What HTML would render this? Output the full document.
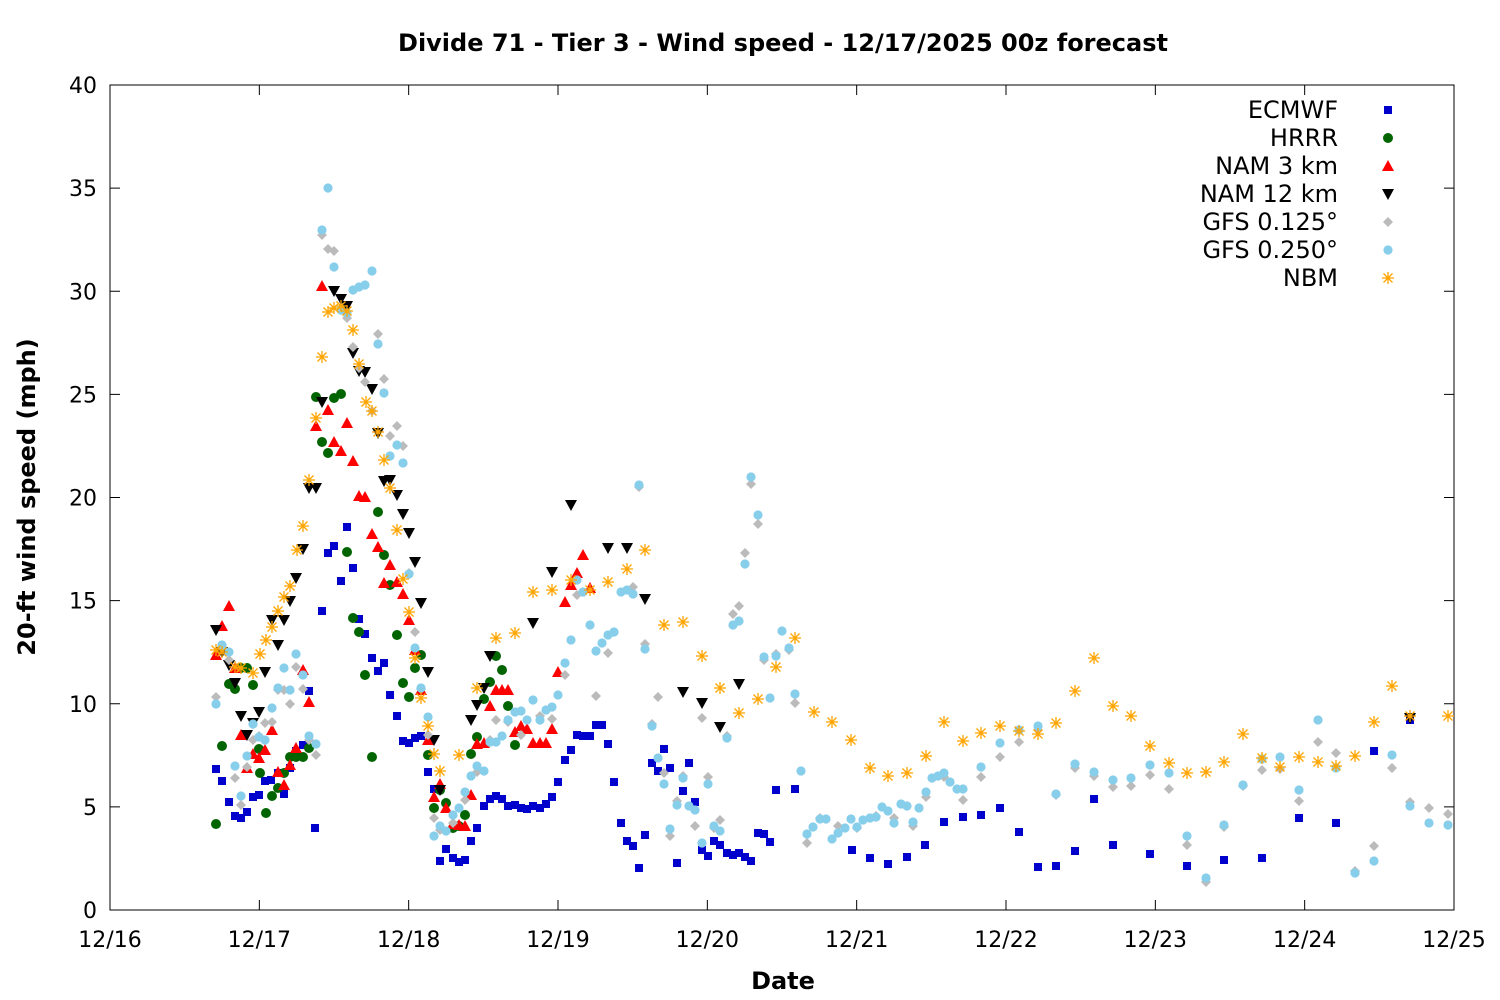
<!DOCTYPE html>
<html><head><meta charset="utf-8"><style>
html,body{margin:0;padding:0;background:#fff}
svg{display:block;font-family:"DejaVu Sans","Liberation Sans",sans-serif}
</style></head><body>
<svg id="s" width="1500" height="1000" xmlns="http://www.w3.org/2000/svg">
<rect width="1500" height="1000" fill="#fff"/>
<text x="783" y="51" text-anchor="middle" font-size="24" font-weight="bold">Divide 71 - Tier 3 - Wind speed - 12/17/2025 00z forecast</text>
<text x="783" y="989" text-anchor="middle" font-size="24" font-weight="bold">Date</text>
<text transform="translate(35,497) rotate(-90)" text-anchor="middle" font-size="24" font-weight="bold">20-ft wind speed (mph)</text>
<rect x="110" y="85" width="1344" height="825" fill="none" stroke="#000" stroke-width="1"/>
<g id="ax" font-size="22"></g>
<g id="pts"></g>
<g id="leg" font-size="24"></g>
</svg>
<script>
var NS="http://www.w3.org/2000/svg";
function el(p,t,a,txt){var e=document.createElementNS(NS,t);for(var k in a)e.setAttribute(k,a[k]);if(txt!==undefined)e.textContent=txt;p.appendChild(e);return e;}
var ax=document.getElementById('ax'),pts=document.getElementById('pts'),leg=document.getElementById('leg');
var days=['12/16','12/17','12/18','12/19','12/20','12/21','12/22','12/23','12/24','12/25'];
for(var i=0;i<=9;i++){var x=110+1344/9*i;
 el(ax,'line',{x1:x,y1:910,x2:x,y2:900,stroke:'#000'});el(ax,'line',{x1:x,y1:85,x2:x,y2:95,stroke:'#000'});
 el(ax,'text',{x:x,y:947,'text-anchor':'middle'},days[i]);}
for(var j=0;j<=8;j++){var y=910-103.125*j;
 el(ax,'line',{x1:110,y1:y,x2:120,y2:y,stroke:'#000'});el(ax,'line',{x1:1454,y1:y,x2:1444,y2:y,stroke:'#000'});
 el(ax,'text',{x:97,y:y+8,'text-anchor':'end'},String(j*5));}
function mk(g,type,x,y){
 if(type=='sq')el(g,'rect',{x:x-4,y:y-4,width:8,height:8,fill:'#0000cc'});
 else if(type=='ci')el(g,'circle',{cx:x,cy:y,r:5,fill:'#006400'});
 else if(type=='tu')el(g,'polygon',{points:(x-6)+','+(y+5)+' '+(x+6)+','+(y+5)+' '+x+','+(y-6),fill:'#ff0000'});
 else if(type=='td')el(g,'polygon',{points:(x-6)+','+(y-5)+' '+(x+6)+','+(y-5)+' '+x+','+(y+6),fill:'#000'});
 else if(type=='di')el(g,'polygon',{points:x+','+(y-5)+' '+(x+5)+','+y+' '+x+','+(y+5)+' '+(x-5)+','+y,fill:'#bbbbbb'});
 else if(type=='hx')el(g,'circle',{cx:x,cy:y,r:4.6,fill:'#87ceeb'});
 else if(type=='st'){var s='M'+(x-6)+' '+y+'h12M'+x+' '+(y-6)+'v12M'+(x-4.5)+' '+(y-4.5)+'l9 9M'+(x-4.5)+' '+(y+4.5)+'l9 -9';el(g,'path',{d:s,stroke:'#ffa500','stroke-width':1.3,fill:'none'});}
}
var D={
sq:[[216,769],[222,781],[229,802],[235,816],[241,818],[247,812],[253,797],[259,795],[265,781],[271,780],[278,773],[284,794],[290,768],[296,751],[303,745],[309,691],[315,828],[322,611],[328,553],[334,546],[341,581],[347,527],[353,568],[359,619],[365,634],[372,658],[378,671],[384,663],[390,695],[397,716],[403,741],[409,743],[415,738],[421,736],[428,772],[434,789],[440,861],[446,849],[453,858],[459,862],[465,860],[471,841],[477,828],[484,806],[490,799],[496,796],[502,799],[508,806],[515,805],[521,808],[527,809],[533,806],[540,808],[546,804],[552,797],[558,782],[565,760],[571,750],[577,735],[583,736],[590,736],[596,725],[602,725],[608,744],[614,782],[621,823],[627,841],[633,846],[639,868],[645,835],[652,763],[658,771],[664,749],[670,768],[677,863],[683,791],[689,763],[695,802],[702,850],[708,856],[714,841],[720,845],[727,853],[733,855],[739,853],[745,857],[751,861],[758,833],[764,834],[770,842],[776,790],[795,789],[852,850],[870,858],[888,864],[907,857],[925,845],[944,822],[963,817],[981,815],[1000,808],[1019,832],[1038,867],[1056,866],[1075,851],[1094,799],[1113,845],[1150,854],[1187,866],[1224,860],[1262,858],[1299,818],[1336,823],[1374,751],[1410,720]],
ci:[[216,824],[222,746],[229,684],[235,689],[241,668],[247,668],[253,685],[259,749],[260,773],[266,813],[272,796],[278,788],[284,773],[290,757],[296,757],[303,757],[309,748],[316,397],[322,442],[328,453],[334,398],[341,394],[347,552],[353,618],[359,632],[365,675],[372,757],[378,512],[384,555],[390,585],[397,635],[403,683],[409,697],[415,668],[421,655],[428,755],[434,808],[440,790],[446,803],[453,828],[459,826],[465,815],[471,754],[477,737],[484,699],[490,682],[496,656],[502,670],[508,706],[515,745]],
tu:[[216,655],[222,626],[229,606],[235,668],[241,735],[247,768],[253,754],[259,758],[265,750],[272,730],[278,772],[284,785],[290,765],[296,748],[303,670],[309,702],[316,426],[322,286],[328,410],[334,442],[341,451],[347,423],[353,461],[359,496],[365,497],[372,534],[378,547],[384,583],[390,565],[397,582],[403,594],[409,620],[415,650],[421,690],[428,740],[434,797],[440,784],[446,808],[453,824],[459,825],[465,826],[471,795],[477,744],[484,743],[490,706],[496,690],[502,690],[508,690],[515,732],[521,726],[527,729],[533,743],[540,743],[546,743],[552,729],[558,672],[565,602],[571,585],[577,573],[583,555],[590,588]],
td:[[216,630],[222,652],[229,665],[235,683],[241,716],[247,735],[253,723],[259,712],[265,672],[272,620],[278,645],[284,620],[290,601],[296,578],[303,549],[309,488],[316,488],[322,402],[334,291],[341,299],[347,306],[353,353],[359,371],[365,372],[372,389],[378,433],[384,481],[390,480],[397,495],[403,514],[409,533],[415,562],[421,603],[428,672],[434,740],[440,790],[471,720],[477,705],[484,688],[490,656],[533,623],[552,572],[571,505],[608,548],[627,548],[645,599],[683,692],[702,703],[720,727],[739,684],[1410,718]],
di:[[216,697],[222,647],[229,660],[235,778],[241,805],[247,767],[253,740],[259,736],[265,723],[272,722],[278,690],[284,690],[290,704],[296,667],[303,689],[309,740],[316,755],[322,235],[328,249],[334,251],[341,310],[347,318],[353,347],[359,368],[365,382],[372,411],[378,334],[384,379],[390,436],[397,426],[403,446],[409,573],[415,632],[421,689],[428,735],[434,818],[440,830],[453,823],[465,800],[477,772],[490,740],[496,720],[508,722],[521,735],[540,716],[552,719],[565,675],[577,595],[596,696],[608,653],[633,587],[639,487],[645,644],[652,724],[658,697],[664,773],[670,836],[677,801],[683,776],[695,826],[702,718],[708,777],[714,828],[720,820],[727,736],[733,614],[739,606],[745,553],[751,484],[758,524],[764,660],[776,654],[789,650],[795,703],[807,843],[820,818],[838,826],[857,828],[876,816],[894,818],[913,826],[926,797],[944,777],[963,800],[981,777],[1000,757],[1019,742],[1038,730],[1056,795],[1075,768],[1094,776],[1113,787],[1131,786],[1150,775],[1169,789],[1187,845],[1206,882],[1224,827],[1243,786],[1262,770],[1280,769],[1299,801],[1318,742],[1336,753],[1355,871],[1374,846],[1392,768],[1410,802],[1429,808],[1448,814]],
hx:[[216,704],[222,645],[229,652],[235,766],[241,796],[247,756],[253,724],[259,737],[265,740],[272,708],[278,688],[284,668],[290,690],[296,654],[303,675],[309,736],[316,744],[322,230],[328,188],[334,267],[341,310],[347,313],[353,290],[359,287],[365,285],[372,271],[378,344],[384,393],[390,456],[397,445],[403,463],[409,574],[415,648],[421,688],[428,717],[434,836],[440,826],[446,831],[453,815],[459,808],[465,792],[471,776],[477,766],[484,771],[490,742],[496,742],[502,736],[508,720],[515,712],[521,711],[527,720],[533,700],[540,720],[546,710],[552,707],[558,695],[565,663],[571,640],[577,580],[583,592],[590,625],[596,651],[602,643],[608,635],[614,632],[621,592],[627,590],[633,594],[639,485],[645,649],[652,726],[658,758],[664,784],[670,829],[677,805],[683,778],[689,806],[695,810],[702,843],[708,784],[714,826],[720,831],[727,738],[733,625],[739,621],[745,564],[751,477],[758,515],[764,657],[770,698],[776,656],[782,631],[789,648],[795,694],[801,771],[807,834],[813,827],[820,819],[826,819],[832,839],[838,833],[845,828],[851,819],[857,827],[863,820],[870,818],[876,817],[882,807],[888,811],[894,823],[901,804],[907,806],[913,822],[919,808],[926,792],[932,778],[938,776],[944,773],[950,782],[957,789],[963,789],[981,767],[1000,743],[1019,730],[1038,726],[1056,794],[1075,764],[1094,772],[1113,780],[1131,778],[1150,765],[1169,773],[1187,836],[1206,878],[1224,825],[1243,785],[1262,759],[1280,757],[1299,790],[1318,720],[1336,768],[1355,873],[1374,861],[1392,755],[1410,806],[1429,823],[1448,825]],
st:[[216,650],[222,652],[235,667],[241,668],[253,673],[260,654],[266,640],[272,627],[278,611],[284,597],[290,586],[297,550],[303,526],[309,480],[316,418],[322,357],[328,312],[334,308],[341,306],[347,311],[353,330],[359,364],[366,402],[372,411],[378,432],[384,460],[390,488],[397,530],[403,579],[409,612],[415,658],[421,698],[428,726],[434,754],[440,771],[459,755],[477,688],[496,638],[515,633],[533,592],[552,590],[571,580],[590,590],[608,582],[627,569],[645,550],[664,625],[683,622],[702,656],[720,688],[739,713],[758,699],[776,667],[795,638],[814,712],[832,722],[851,740],[870,768],[888,776],[907,773],[926,756],[944,722],[963,741],[981,733],[1000,726],[1019,731],[1038,734],[1056,723],[1075,691],[1094,658],[1113,706],[1131,716],[1150,746],[1169,763],[1187,773],[1206,772],[1224,762],[1243,734],[1262,758],[1280,767],[1299,757],[1318,762],[1336,766],[1355,756],[1374,722],[1392,686],[1410,716],[1448,716]]
};
['sq','ci','tu','td','di','hx','st'].forEach(function(t){D[t].forEach(function(p){mk(pts,t,p[0],p[1]);});});
var L=[['ECMWF','sq'],['HRRR','ci'],['NAM 3 km','tu'],['NAM 12 km','td'],['GFS 0.125°','di'],['GFS 0.250°','hx'],['NBM','st']];
L.forEach(function(l,i){var y=110+28*i;el(leg,'text',{x:1338,y:y+8,'text-anchor':'end'},l[0]);mk(leg,l[1],1388,y);});
</script>
</body></html>
